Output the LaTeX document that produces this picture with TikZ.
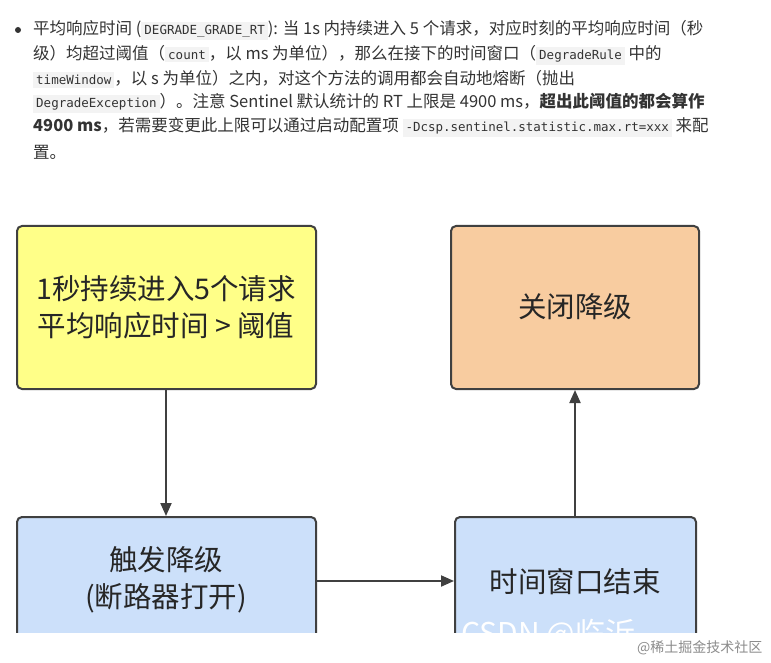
\documentclass[tikz,border=0pt]{standalone}
\usepackage{fontspec}
\setmainfont{Noto Sans CJK SC}
\newfontfamily\codefont{DejaVu Sans Mono}
\usetikzlibrary{arrows.meta}
\definecolor{codebg}{HTML}{F3F3F3}
\definecolor{txt}{HTML}{333333}
\newcommand{\cd}[1]{{\setlength{\fboxsep}{3pt}\colorbox{codebg}{\codefont\fontsize{12.5}{13}\selectfont #1}}}
\tikzset{
  box/.style={draw=black!75, line width=2pt, rounded corners=5pt},
  lbl/.style={font=\fontsize{28.5}{37}\selectfont, text=black!85, align=center},
  para/.style={anchor=west, inner sep=0pt, font=\fontsize{16.5}{18}\selectfont, text=txt},
  arr/.style={draw=black!75, line width=2pt, -{Triangle[length=13pt,width=11pt]}}
}
\begin{document}
\begin{tikzpicture}[x=1pt,y=-1pt]
\useasboundingbox (0,0) rectangle (771,663);
\fill[white] (0,0) rectangle (771,663);
\fill[txt] (18,30) circle (3);
\node[para] (l1) at (33,30) {平均响应时间 (\cd{DEGRADE\_GRADE\_RT}): 当 1s 内持续进入 5 个请求，对应时刻的平均响应时间（秒};
\node[para] (l2) at (33,55) {级）均超过阈值（\cd{count}，以 ms 为单位），那么在接下的时间窗口（\cd{DegradeRule} 中的};
\node[para] (l3) at (33,79) {\cd{timeWindow}，以 s 为单位）之内，对这个方法的调用都会自动地熔断（抛出};
\node[para] (l4) at (33,103) {\cd{DegradeException}）。注意 Sentinel 默认统计的 RT 上限是 4900 ms，\textbf{超出此阈值的都会算作}};
\node[para] (l5) at (33,127) {\textbf{4900 ms}，若需要变更此上限可以通过启动配置项 \cd{-Dcsp.sentinel.statistic.max.rt=xxx} 来配};
\node[para] (l6) at (33,152) {置。};
\begin{scope}
\clip (0,0) rectangle (771,632);
\draw[box, fill={rgb,255:red,255;green,255;blue,136}] (17,226) rectangle (316,389);
\draw[box, fill={rgb,255:red,248;green,204;blue,160}] (451,226) rectangle (699,389);
\draw[box, fill={rgb,255:red,204;green,224;blue,250}] (17,517) rectangle (316,650);
\draw[box, fill={rgb,255:red,204;green,224;blue,250}] (455,517) rectangle (696,650);
\node[text=white, font=\fontsize{30}{30}\selectfont, anchor=west] (wm) at (458,634) {CSDN @临沂};
\end{scope}
\node[lbl] (a) at (166,307) {1秒持续进入5个请求\\平均响应时间 > 阈值};
\node[lbl] (b) at (575,307) {关闭降级};
\node[lbl] (c) at (166,580) {触发降级\\(断路器打开)};
\node[lbl] (d) at (575,582) {时间窗口结束};
\coordinate (ya) at (166,390);
\coordinate (yc) at (166,516);
\coordinate (xc) at (317,581);
\coordinate (xd) at (454,581);
\coordinate (ud) at (575,516);
\coordinate (ub) at (575,390);
\draw[arr] (ya) -- (yc);
\draw[arr] (xc) -- (xd);
\draw[arr] (ud) -- (ub);
\node[anchor=east, text=black!45, font=\fontsize{14}{15}\selectfont] (w2) at (766,648) {@稀土掘金技术社区};
\end{tikzpicture}
\end{document}
